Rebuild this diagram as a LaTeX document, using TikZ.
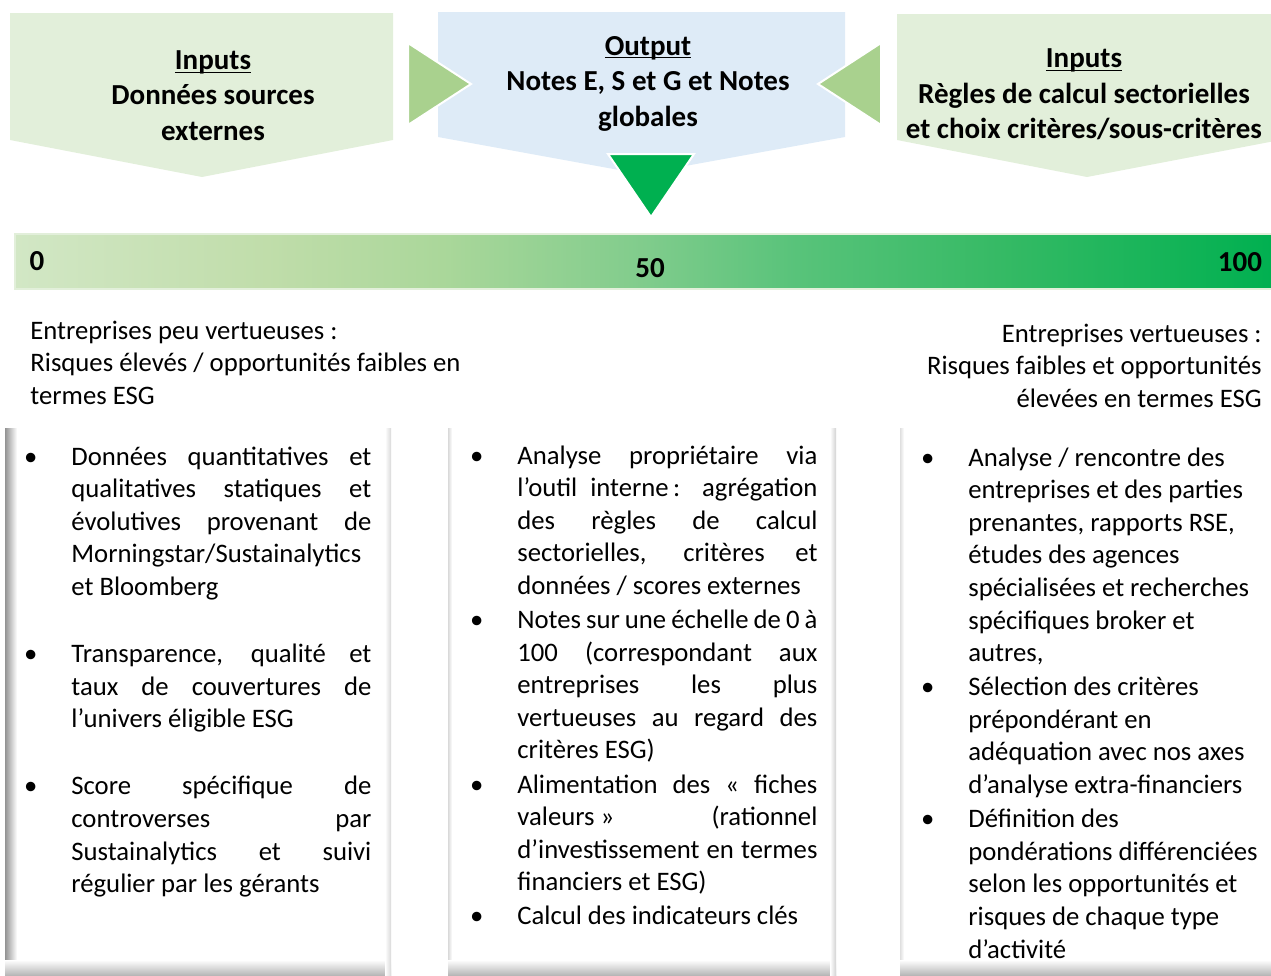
\documentclass[tikz,border=0pt]{standalone}
\usepackage{fontspec}
\setmainfont{Carlito}
\usetikzlibrary{positioning}

\definecolor{inputgreen}{HTML}{E2EFDA}
\definecolor{outputblue}{HTML}{DEEBF7}
\definecolor{arrowgreen}{HTML}{A9D18E}
\definecolor{scoregreen}{HTML}{00B050}
\definecolor{bar0}{HTML}{D2E7C5}
\definecolor{bar1}{HTML}{C0DDAA}
\definecolor{bar2}{HTML}{AAD79A}
\definecolor{bar3}{HTML}{80CC8C}
\definecolor{bar4}{HTML}{58C37A}
\definecolor{bar5}{HTML}{36BA65}
\definecolor{bar6}{HTML}{00B050}
\pgfdeclarehorizontalshading{scorebar}{100bp}{color(0bp)=(bar0); color(25bp)=(bar0); color(35bp)=(bar1); color(42bp)=(bar2); color(50bp)=(bar3); color(56bp)=(bar4); color(64bp)=(bar5); color(75bp)=(bar6); color(100bp)=(bar6)}

\setlength{\parindent}{0pt}
\newcommand{\bodyfont}{\fontsize{13.35}{16.3}\selectfont}
\newcommand{\headfont}{\bfseries\fontsize{14.5}{17.75}\selectfont}
\newcommand{\uword}[1]{\underline{\smash{#1}}}
\newcommand{\itm}{\leavevmode\llap{\textbullet\hspace{17pt}}}
\newcommand{\plainspace}{\spaceskip=0pt\xspaceskip=0pt\relax}

\begin{document}
\begin{tikzpicture}
[
  x=0.5pt, y=-0.5pt,
  inbox/.style={fill=inputgreen},
  outbox/.style={fill=outputblue},
  flow/.style={fill=arrowgreen,draw=white,line width=1pt},
  score/.style={fill=scoregreen,draw=white,line width=1pt},
  head/.style={font=\headfont,align=center,inner sep=0pt},
  num/.style={font=\headfont,inner sep=0pt},
  note/.style={font=\bodyfont,inner sep=0pt,text width=230pt},
  col/.style={font=\bodyfont,inner sep=0pt,text width=150pt,anchor=base west}
]
\useasboundingbox (0,0) rectangle (1271,976);

% inputs and output
\path[inbox] (10,13) -- (393,13) -- (393,140) -- (202,177) -- (10,140) -- cycle;
\path[outbox] (438,12) -- (845,12) -- (845,137) -- (641,174) -- (438,137) -- cycle;
\path[inbox] (897,14) -- (1280,14) -- (1280,140) -- (1087,177) -- (897,140) -- cycle;

\path[flow] (408,43) -- (471,84) -- (408,125) -- cycle;
\path[flow] (881,43) -- (818,84) -- (881,125) -- cycle;
\path[score] (608,154) -- (694,154) -- (651,217) -- cycle;

\node[head] (src) at (213,105) {\uword{Inputs}\\Données sources\\externes};
\node[head] (out) at (648,93) {\uword{Output}\\Notes E, S et G et Notes\\globales};
\node[head] (rules) at (1084,104) {\uword{Inputs}\\Règles de calcul sectorielles\\et choix critères/sous-critères};

% score scale
\shadedraw[shading=scorebar,draw=inputgreen,line width=1pt] (15,234) rectangle (1275,289);
\node[num] (n0) at (37,261) {0};
\node[num] (n50) at (650,268) {50};
\node[num] (n100) at (1240,262) {100};

\node[note,align=flush left,anchor=base west] (low) at (30,339) {\plainspace Entreprises peu vertueuses~:\\Risques élevés / opportunités faibles en\\termes ESG};
\node[note,align=flush right,anchor=base east] (high) at (1262,342) {\plainspace Entreprises vertueuses~:\\Risques faibles et opportunités\\élevées en termes ESG};

% columns
\shade[left color=gray!85,right color=white] (5,428) rectangle (17,976);
\shade[top color=white,bottom color=gray!60] (5,960) rectangle (391,976);
\shade[left color=white,right color=gray!30] (385,428) rectangle (391,976);

\shade[left color=gray!30,right color=white] (448,428) rectangle (452,976);
\shade[top color=white,bottom color=gray!60] (448,960) rectangle (836,976);
\shade[left color=white,right color=gray!35] (830,428) rectangle (836,976);

\shade[left color=gray!25,right color=white] (900,428) rectangle (904,976);
\shade[top color=white,bottom color=gray!60] (900,960) rectangle (1271,976);

\node[col,align=justify] (data) at (71,465) {%
\itm Données quantitatives et\linebreak qualitatives statiques et\linebreak évolutives provenant de\linebreak Morningstar/Sustainalytics\linebreak et Bloomberg\par\vspace{17.25pt}
\itm Transparence, qualité et\linebreak taux de couvertures de\linebreak l’univers éligible ESG\par\vspace{17.25pt}
\itm Score spécifique de\linebreak controverses par\linebreak Sustainalytics et suivi\linebreak régulier par les gérants};

\node[col,align=justify] (tool) at (517,464) {%
\itm Analyse propriétaire via\linebreak l’outil interne\,: agrégation\linebreak des règles de calcul\linebreak sectorielles, critères et\linebreak données / scores externes\par\vspace{0.75pt}
\itm Notes sur une échelle de 0 à\linebreak 100 (correspondant aux\linebreak entreprises les plus\linebreak vertueuses au regard des\linebreak critères ESG)\par\vspace{0.75pt}
\itm Alimentation des «~fiches\linebreak \mbox{valeurs »} (rationnel\linebreak d’investissement en termes\linebreak financiers et ESG)\par\vspace{0.75pt}
\itm Calcul des indicateurs clés};

\node[col,align=flush left] (work) at (968,466) {\plainspace
\itm Analyse / rencontre des\\entreprises et des parties\\prenantes, rapports RSE,\\études des agences\\spécialisées et recherches\\spécifiques broker et\\autres,\par\vspace{0.75pt}
\itm Sélection des critères\\prépondérant en\\adéquation avec nos axes\\d’analyse extra-financiers\par\vspace{0.75pt}
\itm Définition des\\pondérations différenciées\\selon les opportunités et\\risques de chaque type\\d’activité};

\end{tikzpicture}
\end{document}
